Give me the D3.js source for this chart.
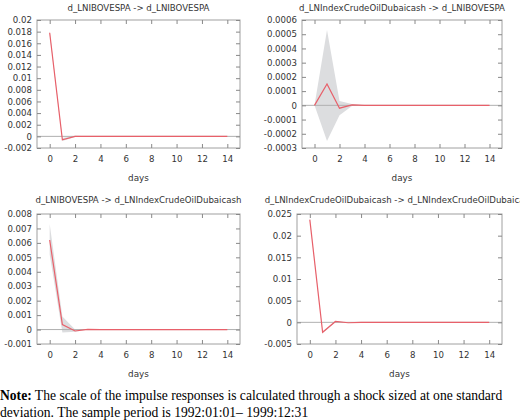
<!DOCTYPE html><html><head><meta charset="utf-8">
<script src="https://cdn.jsdelivr.net/npm/d3@7"></script>
<style>body{margin:0;background:#fff}</style></head><body>
<svg id="c" width="520" height="420"></svg>
<script>
const days=[0,1,2,3,4,5,6,7,8,9,10,11,12,13,14];
const titles=["d_LNIBOVESPA -> d_LNIBOVESPA","d_LNIndexCrudeOilDubaicash -> d_LNIBOVESPA","d_LNIBOVESPA -> d_LNIndexCrudeOilDubaicash","d_LNIndexCrudeOilDubaicash -> d_LNIndexCrudeOilDubaicash"];
const resp1=[0.0178,-0.0006,0,0,0,0,0,0,0,0,0,0,0,0,0];
const lo1=[0.0175,-0.0008,-0.0001,0,0,0,0,0,0,0,0,0,0,0,0];
const hi1=[0.0181,-0.0003,0.0001,0,0,0,0,0,0,0,0,0,0,0,0];
const resp2=[0,0.00015,-0.00002,0.000003,0,0,0,0,0,0,0,0,0,0,0];
const lo2=[0,-0.00025,-0.00007,-0.000005,0,0,0,0,0,0,0,0,0,0,0];
const hi2=[0,0.00053,0.00003,0.00001,0,0,0,0,0,0,0,0,0,0,0];
const resp3=[0.0062,0.00035,-0.0001,0.00001,0,0,0,0,0,0,0,0,0,0,0];
const lo3=[0.0052,-0.0002,-0.00015,0,0,0,0,0,0,0,0,0,0,0,0];
const hi3=[0.0073,0.0009,0,0.00002,0,0,0,0,0,0,0,0,0,0,0];
const resp4=[0.0237,-0.0023,0.0002,-0.0001,0,0,0,0,0,0,0,0,0,0,0];
const lo4=[0.0235,-0.0025,0.0001,-0.00012,0,0,0,0,0,0,0,0,0,0,0];
const hi4=[0.0239,-0.0021,0.0003,-0.00008,0,0,0,0,0,0,0,0,0,0,0];
const xTicks=[0,2,4,6,8,10,12,14];
const yTicks1=[-0.002,0,0.002,0.004,0.006,0.008,0.01,0.012,0.014,0.016,0.018,0.02];
const yTicks2=[-0.0003,-0.0002,-0.0001,0,0.0001,0.0002,0.0003,0.0004,0.0005,0.0006];
const yTicks3=[-0.001,0,0.001,0.002,0.003,0.004,0.005,0.006,0.007,0.008];
const yTicks4=[-0.005,0,0.005,0.01,0.015,0.02,0.025];
const panels=[
 {r:resp1,lo:lo1,hi:hi1,yt:yTicks1,box:[37,20,240,148],ty:7},
 {r:resp2,lo:lo2,hi:hi2,yt:yTicks2,box:[302,20,502,148],ty:7},
 {r:resp3,lo:lo3,hi:hi3,yt:yTicks3,box:[37,214,240,344],ty:199},
 {r:resp4,lo:lo4,hi:hi4,yt:yTicks4,box:[297,214,502,344],ty:199}];
const svg=d3.select("#c");
const F="DejaVu Sans, sans-serif";
panels.forEach((p,i)=>{
 const [x0,y0,x1,y1]=p.box;
 const x=d3.scaleLinear().domain([-1,15]).range([x0,x1]);
 const y=d3.scaleLinear().domain([p.yt[0],p.yt[p.yt.length-1]]).range([y1,y0]);
 const g=svg.append("g");
 g.append("path").datum(days).attr("fill","#dcdddf")
  .attr("d",d3.area().x(d=>x(d)).y0(d=>y(p.lo[d])).y1(d=>y(p.hi[d])));
 g.append("line").attr("x1",x0).attr("x2",x1).attr("y1",y(0)).attr("y2",y(0)).attr("stroke","#b0b0b0").attr("stroke-width",1);
 g.append("path").datum(days).attr("fill","none").attr("stroke","#e8606a").attr("stroke-width",1.2)
  .attr("d",d3.line().x(d=>x(d)).y(d=>y(p.r[d])));
 g.append("rect").attr("x",x0).attr("y",y0).attr("width",x1-x0).attr("height",y1-y0).attr("fill","none").attr("stroke","#a0a0a0");
 const fmt=v=>(+v.toPrecision(6)).toString();
 g.append("g").attr("transform",`translate(${x0},0)`).call(d3.axisLeft(y).tickValues(p.yt).tickSize(-4).tickPadding(5).tickFormat(fmt));
 g.append("g").attr("transform",`translate(${x1},0)`).call(d3.axisRight(y).tickValues(p.yt).tickSize(-4).tickFormat(""));
 g.append("g").attr("transform",`translate(0,${y1})`).call(d3.axisBottom(x).tickValues(xTicks).tickSize(-4).tickPadding(8));
 g.append("g").attr("transform",`translate(0,${y0})`).call(d3.axisTop(x).tickValues(xTicks).tickSize(-4).tickFormat(""));
 g.selectAll(".domain").remove();
 g.selectAll(".tick line").attr("stroke","#888");
 g.selectAll(".tick text").attr("font-family",F).attr("font-size",8.6).attr("fill","#333");
 svg.append("text").attr("x",(x0+x1)/2).attr("y",p.ty+4).attr("text-anchor","middle").attr("font-family",F).attr("font-size",8.6).attr("fill","#333").text(titles[i]);
 svg.append("text").attr("x",(x0+x1)/2).attr("y",y1+33).attr("text-anchor","middle").attr("font-family",F).attr("font-size",8.8).attr("fill","#333").text("days");
});
const n=svg.append("text").attr("x",0).attr("y",400).attr("font-family","Liberation Serif, serif").attr("font-size",13.6);
n.append("tspan").attr("font-weight","bold").text("Note:");
n.append("tspan").text(" The scale of the impulse responses is calculated through a shock sized at one standard");
svg.append("text").attr("x",0).attr("y",417).attr("font-family","Liberation Serif, serif").attr("font-size",13.6).text("deviation. The sample period is 1992:01:01\u2013 1999:12:31");
</script></body></html>
